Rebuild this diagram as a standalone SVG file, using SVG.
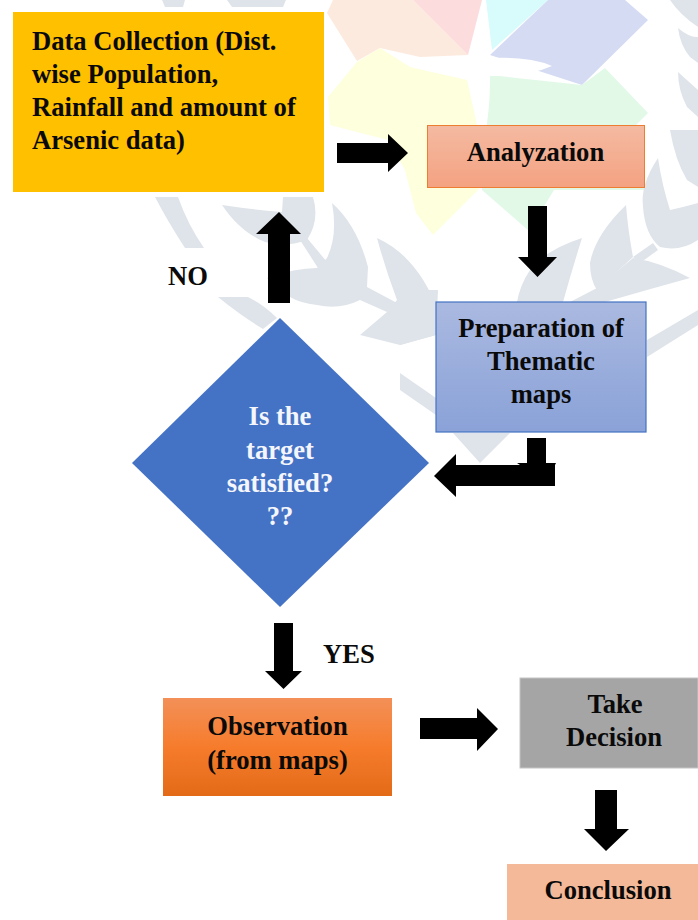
<svg xmlns="http://www.w3.org/2000/svg" width="698" height="920" viewBox="0 0 698 920">
<style>
text{font-family:"Liberation Serif","Times New Roman",serif;font-weight:700;font-size:26.6px;fill:#0a0a0a}
.c{text-anchor:middle}
.l{fill:#f4f6fb}
.leaf{fill:#dfe4ea}
.arrow{fill:#000}
</style>
<defs>
<linearGradient id="gA" x1="0" y1="0" x2="0" y2="1"><stop offset="0" stop-color="#f4baa2"/><stop offset="1" stop-color="#f4a281"/></linearGradient>
<linearGradient id="gP" x1="0" y1="0" x2="0" y2="1"><stop offset="0" stop-color="#aab9e0"/><stop offset="1" stop-color="#8aa2d8"/></linearGradient>
<linearGradient id="gO" x1="0" y1="0" x2="0" y2="1"><stop offset="0" stop-color="#f39058"/><stop offset=".5" stop-color="#f67c2c"/><stop offset="1" stop-color="#e36b17"/></linearGradient>
<filter id="soft" x="0" y="0" width="100%" height="100%"><feGaussianBlur stdDeviation="0.7"/></filter>
</defs>
<rect width="698" height="920" fill="#fff"/>
<g id="watermark" filter="url(#soft)">
<polygon fill="#fdeade" points="333,0 413,0 468,55 420,57 380,48 357,61 327,13"/>
<polygon fill="#fddcde" points="413,0 482,0 468,55"/>
<polygon fill="#d8fbfb" points="486,0 548,0 492,50"/>
<polygon fill="#d4dbf3" points="548,0 625,0 648,20 582,85 490,55"/>
<polygon fill="#e2f9e8" points="490,75 582,85 605,68 648,113 636,125 644,125 644,190 554,190 529,231 482,190 487,125"/>
<polygon fill="#feffdc" points="380,48 410,67 467,80 477,125 427,125 427,188 480,188 433,235 416,213 405,170 388,140 330,125 328,97 357,62"/>
<path fill="#fff" d="M410,66 Q440,58 478,58 Q479,20 484,0 Q490,20 490,58 Q530,56 552,66 Q530,76 490,76 Q490,110 486,125 L478,125 Q476,100 474,76 Q440,76 410,66Z"/>
<g class="leaf">
<polygon points="162,0 185,0 183,7 165,7"/><polygon points="227,0 286,0 283,7 232,7"/>
<path d="M155,197 L178,197 Q188,225 204,248 L185,248 Q168,222 155,197Z"/>
<path d="M218,297 L248,297 Q264,305 277,318 L263,329 Q240,315 218,297Z"/>
<path d="M222,205 Q255,210 282,212 L283,197 L313,197 Q320,220 307,240 Q285,248 265,242 Q240,232 222,205Z"/>
<path d="M332,203 Q357,225 368,267 L367,287 L397,303 L387,312 L360,300 Q340,310 317,305 Q300,303 290,297 Q278,290 267,278 Q295,268 317,268 L327,258 Q338,235 332,203Z"/>
<path d="M300,240 L307,238 L327,262 L318,268Z"/>
<path d="M377,238 Q415,255 436,305 L436,335 L400,345 L360,335 L387,312 L397,300 Q385,268 377,238Z"/>
<path d="M400,290 L438,290 L436,335 L400,345Z"/>
<polygon points="400,373 436,398 436,415 400,390"/>
<path d="M453,433 L510,433 L480,463Z"/>
<path d="M582,238 Q545,250 530,270 Q520,285 517,302 L563,302 Q572,270 582,238Z"/>
<path d="M626,205 Q595,235 590,263 Q590,280 597,290 L633,257 Q628,230 626,205Z"/>
<path d="M633,258 Q660,262 690,278 L647,290 L605,302 L570,302 L597,288Z"/>
<polygon points="633,257 653,243 658,250 640,263"/>
<path d="M658,158 Q640,185 643,207 Q645,235 660,247 Q680,252 698,240 L698,203 L683,207 L670,210 Q662,185 658,158Z"/>
<path d="M670,130 L698,130 L698,187 L687,180 Q675,160 670,130Z"/>
<polygon points="647,340 698,310 698,325 647,357"/>
<path d="M670,0 L698,0 L698,27 Q680,15 670,0Z"/>
<path d="M678,28 Q690,38 698,37 L698,63 L690,57 Q680,45 678,28Z"/>
<path d="M678,72 L698,90 L698,117 L687,107 Q678,90 678,72Z"/>
</g>
</g>
<g id="connectors" class="arrow">
<polygon points="337,143 388,143 388,134 408,153 388,172 388,163 337,163"/>
<polygon points="528,206 547,206 547,257 557,257 537.500,277 518,257 528,257"/>
<polygon points="268,303 290,303 290,234 301,234 279,212 256,234 268,234"/>
<polygon points="527,438 546,438 546,463 556,463 555,465 555,486 456,486 456,497 434,476 456,454 456,465 520,465 517,463 527,463"/>
<polygon points="274,623 293,623 293,671 302,671 283.500,689 265,671 274,671"/>
<polygon points="420,718 477,718 477,708 498,729 477,751 477,739 420,739"/>
<polygon points="595,790 617,790 617,829 629,829 606,851 584,829 595,829"/>
</g>
<g id="data-collection">
<rect x="13" y="12" width="311" height="180" fill="#ffc000"/>
<text x="32" y="50">Data Collection (Dist.</text>
<text x="32" y="83">wise Population,</text>
<text x="32" y="116">Rainfall and amount of</text>
<text x="32" y="149">Arsenic data)</text>
</g>
<g id="analyzation">
<rect x="427.500" y="125.500" width="217" height="62" fill="url(#gA)" stroke="#ed7d31"/>
<text class="c" x="535.500" y="161">Analyzation</text>
</g>
<g id="preparation">
<rect x="436" y="302" width="210" height="130" fill="url(#gP)" stroke="#4472c4" stroke-width="1.200"/>
<text class="c" x="541" y="337">Preparation of</text>
<text class="c" x="541" y="370">Thematic</text>
<text class="c" x="541" y="403">maps</text>
</g>
<g id="decision">
<polygon points="280,318 429,463 280,607 132,463" fill="#4472c4"/>
<text class="c l" x="280" y="425">Is the</text>
<text class="c l" x="280" y="459">target</text>
<text class="c l" x="280" y="492">satisfied?</text>
<text class="c l" x="280" y="525">??</text>
</g>
<g id="label-no"><text x="168" y="285">NO</text></g>
<g id="label-yes"><text x="323" y="663">YES</text></g>
<g id="observation">
<rect x="163" y="698" width="229" height="98" fill="url(#gO)"/>
<text class="c" x="277.500" y="735">Observation</text>
<text class="c" x="277.500" y="769">(from maps)</text>
</g>
<g id="take-decision">
<rect x="520" y="678" width="178" height="90" fill="#a5a5a5" stroke="#c4c4c4"/>
<text class="c" x="615" y="713">Take</text>
<text class="c" x="614" y="746">Decision</text>
</g>
<g id="conclusion">
<rect x="507" y="864" width="191" height="56" fill="#f4b998"/>
<text class="c" x="608" y="899">Conclusion</text>
</g>
</svg>
